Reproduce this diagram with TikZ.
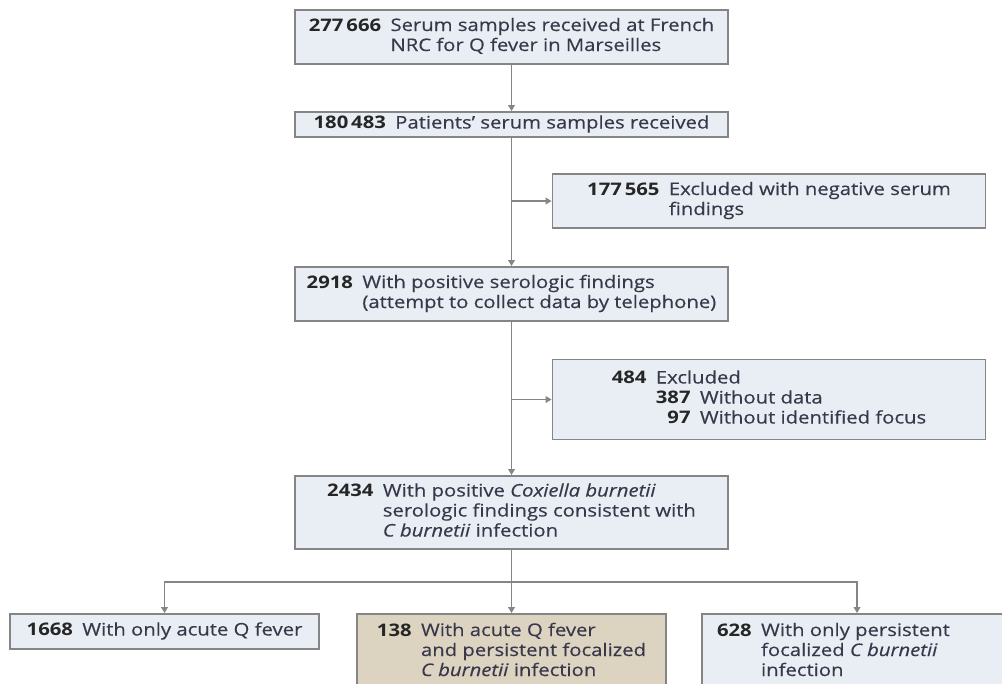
\documentclass[tikz,border=0pt]{standalone}
\usepackage{fontspec}
\setmainfont[FakeStretch=1.17,UprightFeatures={FakeBold=0.35},ItalicFeatures={FakeBold=0.35}]{Open Sans}
\usetikzlibrary{arrows.meta}
\definecolor{boxfill}{HTML}{E8EEF3}
\definecolor{tanfill}{HTML}{DCD4C1}
\definecolor{linegray}{HTML}{858585}
\definecolor{txtgray}{HTML}{38384A}
\newcommand{\num}[1]{\textbf{\color{black!85}#1}}
\newcommand{\rows}[1]{\begin{tabular}[t]{@{}r@{\hspace{7pt}}l@{}}#1\end{tabular}}

\begin{document}
\begin{tikzpicture}[x=0.75pt,y=-0.75pt,>={Triangle[length=4.5pt,width=5pt]},
    box/.style={draw=linegray,line width=1.4pt,fill=boxfill,inner sep=0pt,
      minimum width=#1,font=\fontsize{13}{15}\selectfont\color{txtgray}},
    box/.default=324.75pt,
    arr/.style={->,draw=linegray,line width=1.3pt}]
  \useasboundingbox (0,0) rectangle (1002,683);

  \node[box,minimum height=40.5pt] (n1) at (511.5,37)
    {\rows{\num{277\,666} & Serum samples received at French\\ & NRC for Q fever in Marseilles}};
  \node[box,minimum height=18.75pt] (n2) at (511.5,124.5)
    {\rows{\num{180\,483} & Patients' serum samples received}};
  \node[box,minimum height=40.5pt] (ex1) at (769,201)
    {\rows{\num{177\,565} & Excluded with negative serum\\ & findings}};
  \node[box,minimum height=40.5pt] (n3) at (511.5,294)
    {\rows{\num{2918} & With positive serologic findings\\ & (attempt to collect data by telephone)}};
  \node[box,minimum height=60pt] (ex2) at (769,399.5)
    {\rows{\num{484} & Excluded\\ & \rows{\num{387} & Without data\\ \num{97} & Without identified focus}}};
  \node[box,minimum height=54.75pt] (n4) at (511.5,512.5)
    {\rows{\num{2434} & With positive \emph{Coxiella burnetii}\\ & serologic findings consistent with\\ & \emph{C burnetii} infection}};

  \node[box=231.75pt,minimum height=26.25pt] (acute) at (164.5,631.5)
    {\rows{\num{1668} & With only acute Q fever}};
  \node[box=231.75pt,minimum height=57pt,fill=tanfill] (both) at (511.5,652)
    {\rows{\num{138} & With acute Q fever\\ & and persistent focalized\\ & \emph{C burnetii} infection}};
  \node[box=232.5pt,minimum height=57pt] (pers) at (857,652)
    {\makebox[232.5pt][l]{\hspace{11.25pt}\rows{\num{628} & With only persistent\\ & focalized \emph{C burnetii}\\ & infection}}};

  % main trunk
  \draw[arr] (n1) -- (n2);
  \draw[arr] (n2) -- (n3);
  \draw[arr] (n3) -- (n4);
  \draw[arr] (n2.south |- ex1.west) -- (ex1.west);
  \draw[arr] (n3.south |- ex2.west) -- (ex2.west);

  % split into three groups
  \coordinate (split) at (511.5,582);
  \draw[draw=linegray,line width=1.3pt] (n4) -- (split);
  \draw[arr] (split) -| (acute.north);
  \draw[arr] (split) -- (both.north);
  \draw[arr] (split) -| (pers.north);
\end{tikzpicture}
\end{document}
